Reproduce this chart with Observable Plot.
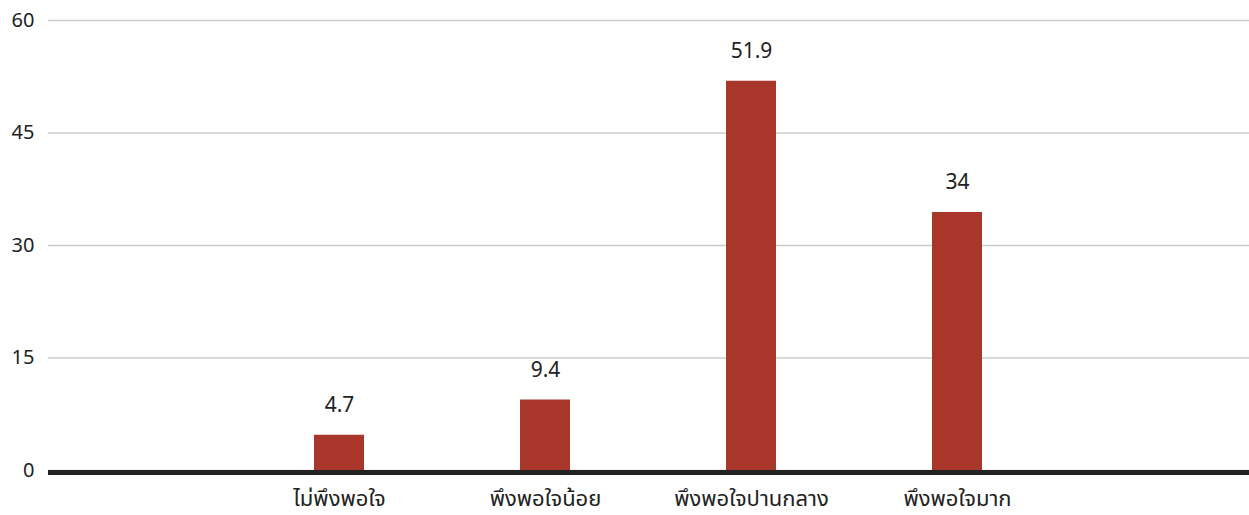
<!DOCTYPE html>
<html>
<head>
<meta charset="utf-8">
<script src="https://cdn.jsdelivr.net/npm/d3@7"></script>
<script src="https://cdn.jsdelivr.net/npm/@observablehq/plot@0.6"></script>
<style>
  html, body { margin: 0; padding: 0; background: #fff; }
  #chart svg { display: block; }
</style>
</head>
<body>
<div id="chart"></div>
<script>
const categories = ["ไม่พึงพอใจ", "พึงพอใจน้อย", "พึงพอใจปานกลาง", "พึงพอใจมาก"];
const values = [4.7, 9.4, 51.9, 34.4];
const valueLabels = ["4.7", "9.4", "51.9", "34"];
const yTicks = [0, 15, 30, 45, 60];

const data = categories.map((c, i) => ({cat: c, v: values[i], label: valueLabels[i]}));

const chart = Plot.plot({
  width: 1249,
  height: 515,
  marginTop: 20,
  marginBottom: 45,
  marginLeft: 48,
  marginRight: 0,
  style: {fontFamily: '"Noto Sans", "Noto Sans Thai", "Open Sans", sans-serif', background: "#fff"},
  x: {type: "band", domain: categories, range: [236, 1060], paddingInner: 0.757, paddingOuter: 0.3785, label: null},
  y: {domain: [0, 60], ticks: yTicks, label: null},
  marks: [
    Plot.gridY(yTicks, {stroke: "#cccccc", strokeOpacity: 1, strokeWidth: 1.5}),
    Plot.axisY(yTicks, {tickSize: 0, tickPadding: 14, fontSize: 20, fill: "#222", label: null}),
    Plot.barY(data, {x: "cat", y: "v", fill: "#a8362a"}),
    Plot.text(data, {x: "cat", y: "v", text: "label", dy: -30, lineAnchor: "middle", fontSize: 21, fill: "#222"}),
    Plot.ruleY([0], {stroke: "#222", strokeWidth: 5, dy: 2}),
    Plot.axisX({tickSize: 0, tickPadding: 20, fontSize: 22, fill: "#222", label: null})
  ]
});
document.getElementById("chart").appendChild(chart);
</script>
</body>
</html>
